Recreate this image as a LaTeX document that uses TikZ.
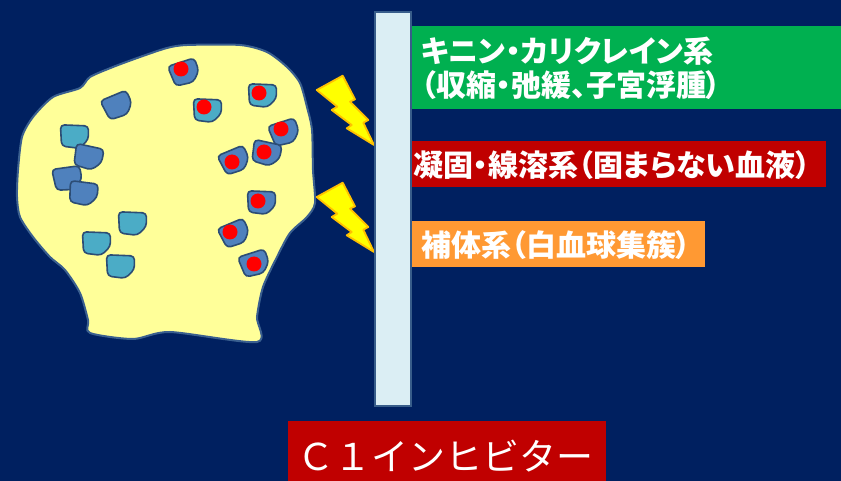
\documentclass[tikz,border=0pt]{standalone}
\usepackage{fontspec}
\newfontfamily\jpfont{Noto Sans CJK JP}
\newfontfamily\jplabel[RawFeature=+palt]{Noto Sans CJK JP}
\definecolor{navy}{RGB}{0,32,96}
\definecolor{boxgreen}{RGB}{0,176,80}
\definecolor{boxred}{RGB}{192,0,0}
\definecolor{boxorange}{RGB}{255,153,51}
\definecolor{blobfill}{RGB}{255,255,153}
\definecolor{blobline}{RGB}{58,95,143}
\definecolor{celldark}{RGB}{79,129,189}
\definecolor{cellcyan}{RGB}{75,172,198}
\definecolor{cellline}{RGB}{44,77,117}
\definecolor{boltfill}{RGB}{255,255,0}
\definecolor{boltline}{RGB}{255,192,0}
\definecolor{barfill}{RGB}{219,238,244}
\definecolor{barline}{RGB}{56,93,138}
% one cell of the tissue: centre x, centre y, rotation, fill colour
\newcommand\tissuecell[4]{%
  \begin{scope}[shift={(#1,#2)},rotate=#3,scale=1.12]
    \draw[cellborder,fill=#4,rounded corners=4pt]
      (-13,-10) -- (12,-9) -- (12,3) -- (4,11) -- (-12,9) -- cycle;
  \end{scope}}
\newcommand\hitcell[6]{%
  \tissuecell{#1}{#2}{#3}{#4}
  \fill[dot] (#5,#6) circle (7.5);}
\begin{document}
\begin{tikzpicture}[x=1pt,y=-1pt,
  cellborder/.style={draw=cellline,line width=1.6pt},
  dot/.style={fill=red},
  bolt/.style={fill=boltfill,draw=boltline,line width=1.8pt,line join=round},
  lbl/.style={text=white,inner sep=0pt,align=left,font=\jplabel\bfseries\fontsize{30}{34}\selectfont},
  bigl/.style={text=white,inner sep=0pt,font=\jpfont\fontsize{37}{40}\selectfont}]
\useasboundingbox (0,0) rectangle (841,481);
\fill[navy] (0,0) rectangle (841,481);

% tissue outline
\draw[fill=blobfill,draw=blobline,line width=2pt]
  plot[smooth cycle,tension=0.45] coordinates {
    (90,333) (133,339) (170,332) (257,342) (257,317) (263,287) (277,257)
    (290,233) (307,217) (315,203) (313,170) (312,130) (307,107) (300,83)
    (287,67) (267,52) (240,45) (187,45) (167,48) (140,57) (113,67) (90,77)
    (80,88) (53,97) (33,117) (22,137) (18,170) (17,197) (20,217) (33,237)
    (50,257) (65,270) (80,293) (88,320)};

% cells without marks
\tissuecell{118}{105}{25}{celldark}
\tissuecell{75}{136}{0}{cellcyan}
\tissuecell{89}{157}{-10}{celldark}
\tissuecell{68}{178}{10}{celldark}
\tissuecell{84}{193}{-5}{celldark}
\tissuecell{133}{223}{0}{cellcyan}
\tissuecell{97}{243}{0}{cellcyan}
\tissuecell{121}{266}{0}{cellcyan}

% cells carrying red marks
\hitcell{185}{72}{20}{celldark}{181}{69}
\hitcell{208}{110}{0}{cellcyan}{204}{107}
\hitcell{263}{95}{0}{cellcyan}{259}{93}
\hitcell{285}{132}{20}{celldark}{281}{129}
\hitcell{235}{160}{25}{celldark}{232}{162}
\hitcell{267}{153}{-10}{celldark}{264}{152}
\hitcell{262}{202}{0}{celldark}{258}{201}
\hitcell{235}{233}{25}{celldark}{230}{232}
\hitcell{255}{263}{20}{celldark}{254}{264}

% lightning bolts
\foreach \dy in {0,107}{
  \draw[bolt,yshift=-\dy pt]
    (316.7,90) -- (342.7,75.7) -- (355,99.3) -- (350,101.7) -- (368.3,120)
    -- (363.3,122.7) -- (374,145) -- (346.7,128.3) -- (351.7,125)
    -- (331.7,110) -- (337.3,106.7) -- cycle;
}

% membrane bar
\draw[fill=barfill,draw=barline,line width=2pt] (375,12) rectangle (411,406);

% cascade labels
\fill[boxgreen] (412,26) rectangle (841,109);
\node[lbl,anchor=west] (kinin) at (421,68) {キニン・カリクレイン系\\（収縮・弛緩、子宮浮腫）};
\fill[boxred] (412,141) rectangle (826,187);
\node[lbl,anchor=west] (gyoko) at (413,165) {凝固・線溶系（固まらない血液）};
\fill[boxorange] (412,221) rectangle (705,267);
\node[lbl,anchor=west] (hotai) at (421,245) {補体系（白血球集簇）};

% inhibitor label
\fill[boxred] (288,421) rectangle (606,481);
\node[bigl,anchor=west] (c1inh) at (297,456) {Ｃ１インヒビター};
\end{tikzpicture}
\end{document}
